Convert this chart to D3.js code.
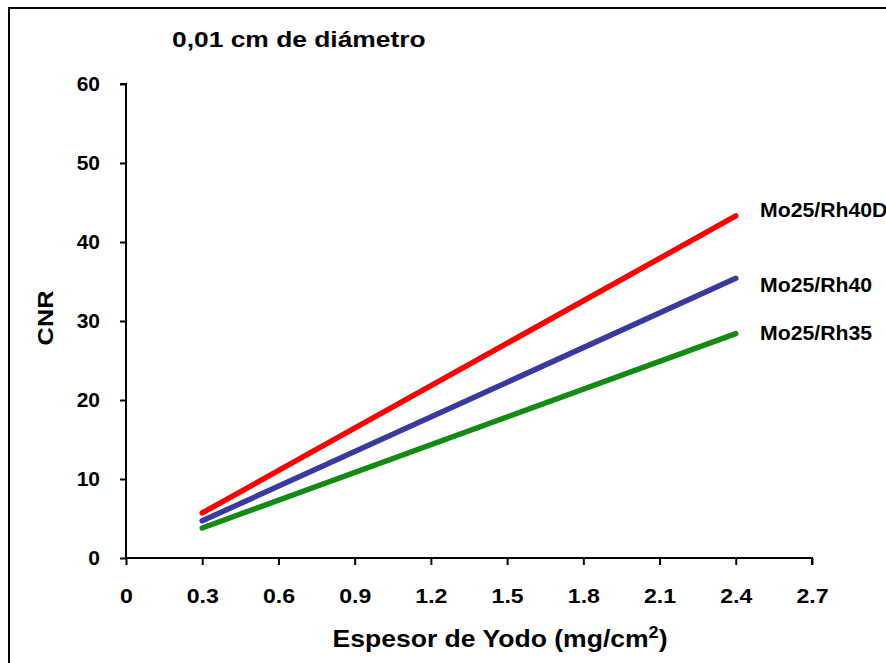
<!DOCTYPE html>
<html>
<head>
<meta charset="utf-8">
<script src="https://cdn.jsdelivr.net/npm/d3@7/dist/d3.min.js"></script>
<style>
  html, body { margin: 0; padding: 0; background: #fff; }
  svg { display: block; }
  text { font-family: "Liberation Sans", Arial, Helvetica, sans-serif; font-weight: bold; fill: #000; }
</style>
</head>
<body>
<svg id="chart" width="886" height="663"></svg>
<script>
// Iodine thickness (mg/cm2) at which each CNR series was evaluated
const thickness = [0.3, 2.4];
// CNR for each anode/filter combination
const seriesNames = ["Mo25/Rh40D", "Mo25/Rh40", "Mo25/Rh35"];
const cnrRh40D = [5.7, 43.3];
const cnrRh40 = [4.7, 35.4];
const cnrRh35 = [3.8, 28.4];
const seriesColors = ["#ff0000", "#3a3a9e", "#138a13"];
// Axis ticks
const xTicks = [0, 0.3, 0.6, 0.9, 1.2, 1.5, 1.8, 2.1, 2.4, 2.7];
const yTicks = [0, 10, 20, 30, 40, 50, 60];

const svg = d3.select("#chart");

// outer frame
svg.append("rect")
  .attr("x", 9).attr("y", 8)
  .attr("width", 900).attr("height", 680)
  .attr("fill", "none").attr("stroke", "#000").attr("stroke-width", 2);

const x = d3.scaleLinear().domain([0, 2.7]).range([126, 812]);
const y = d3.scaleLinear().domain([0, 60]).range([558, 84]);

// y axis
const yAxis = svg.append("g")
  .attr("transform", `translate(${x(0)},0)`)
  .call(d3.axisLeft(y).tickValues(yTicks).tickSize(6).tickPadding(20).tickFormat(d3.format("d")));
// x axis
const xAxis = svg.append("g")
  .attr("transform", `translate(0,${y(0)})`)
  .call(d3.axisBottom(x).tickValues(xTicks).tickSize(7).tickPadding(23)
    .tickFormat(d => d === 0 ? "0" : d3.format(".1f")(d)));

[xAxis, yAxis].forEach(g => {
  g.select(".domain").attr("stroke", "#000").attr("stroke-width", 2);
  g.selectAll(".tick line").attr("stroke", "#000").attr("stroke-width", 2);
  g.selectAll(".tick text").style("font-size", "21px").attr("fill", "#000");
});
xAxis.selectAll(".tick text").attr("transform", "scale(1.1,1)");
yAxis.select(".domain").attr("d", `M-6,${y(60)}H0V${y(0)}`);
xAxis.select(".domain").attr("d", `M${x(0)},0H${x(2.7)}V7`);

// series lines
const line = d3.line().x((d, i) => x(thickness[i])).y(d => y(d));
const allSeries = [cnrRh40D, cnrRh40, cnrRh35];
allSeries.forEach((vals, k) => {
  svg.append("path")
    .datum(vals)
    .attr("d", line)
    .attr("fill", "none")
    .attr("stroke", seriesColors[k])
    .attr("stroke-width", 5.5)
    .attr("stroke-linecap", "round");
});

// series labels beside line ends
const labelY = [217, 292, 340];
seriesNames.forEach((name, k) => {
  svg.append("text")
    .attr("transform", `translate(760,${labelY[k]}) scale(1.09,1)`)
    .style("font-size", "19.5px")
    .text(name);
});

// title
svg.append("text")
  .attr("transform", "translate(172,47) scale(1.2,1)")
  .style("font-size", "22px")
  .text("0,01 cm de diámetro");

// axis titles
const xt = svg.append("text")
  .attr("transform", "translate(500,647) scale(1.13,1)")
  .attr("text-anchor", "middle")
  .style("font-size", "23.5px");
xt.append("tspan").text("Espesor de Yodo (mg/cm");
xt.append("tspan").attr("dy", -9).style("font-size", "16px").text("2");
xt.append("tspan").attr("dy", 9).text(")");

svg.append("text")
  .attr("transform", "translate(53,318) rotate(-90) scale(1.15,1)")
  .attr("text-anchor", "middle")
  .style("font-size", "22px")
  .text("CNR");
</script>
</body>
</html>
